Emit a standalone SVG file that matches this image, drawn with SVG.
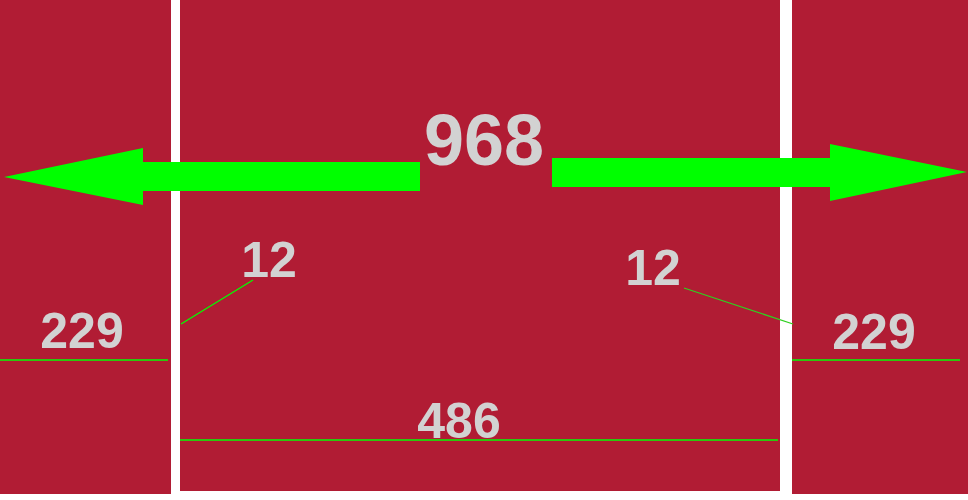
<svg xmlns="http://www.w3.org/2000/svg" width="968" height="500" viewBox="0 0 968 500">
<style>
.panel{fill:#B11C34}
.t{font-family:"Liberation Sans",Arial,sans-serif;font-weight:bold;fill:#D2D2D2;text-anchor:middle}
.dim{stroke:#00FF00;stroke-width:1.3;fill:none}
.arrow{fill:#00FF00}
</style>
<rect width="968" height="500" fill="#FFFFFF"/>
<g id="panel-left"><rect class="panel" x="0" y="0" width="171" height="494"/></g>
<g id="panel-middle"><rect class="panel" x="180" y="0" width="600" height="491"/></g>
<g id="panel-right"><rect class="panel" x="792" y="0" width="176" height="494"/></g>
<g id="connectors">
<polygon class="arrow" points="4,177 143,148 143,162 420,162 420,191 143,191 143,205"/>
<polygon class="arrow" points="967,172 830,144 830,158 552,158 552,187 830,187 830,201"/>
<line class="dim" x1="181" y1="324" x2="253" y2="280" stroke="#3CB030"/>
<line class="dim" x1="684" y1="288" x2="793" y2="324" style="stroke:#2FD020"/>
<line class="dim" x1="0" y1="360" x2="168" y2="360"/>
<line class="dim" x1="792" y1="360" x2="960" y2="360"/>
<line class="dim" x1="180" y1="440" x2="778" y2="440"/>
</g>
<g id="labels">
<text class="t" x="484" y="165" font-size="72">968</text>
<text class="t" x="269" y="277" font-size="50">12</text>
<text class="t" x="653" y="285" font-size="50">12</text>
<text class="t" x="82" y="348" font-size="50">229</text>
<text class="t" x="874" y="349" font-size="50">229</text>
<text class="t" x="459" y="438" font-size="50">486</text>
</g>
</svg>
